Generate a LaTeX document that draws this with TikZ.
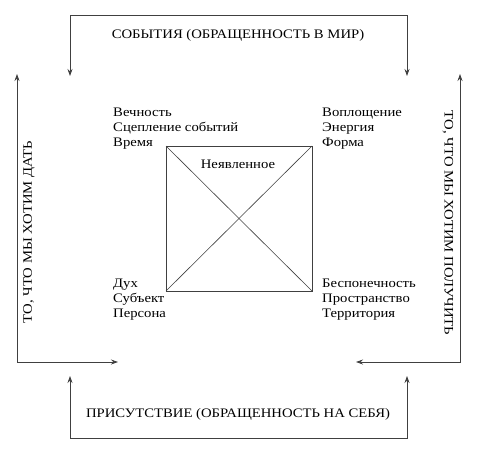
\documentclass[tikz,border=0pt]{standalone}
\usepackage{fontspec}
\setmainfont[FakeStretch=1.13]{Liberation Serif}
\usetikzlibrary{arrows.meta}

\begin{document}
\begin{tikzpicture}[x=1pt, y=-1pt, every node/.style={font=\fontsize{13}{15}\selectfont, inner sep=0pt},
		line/.style={draw=black!75, line width=0.8pt},
		arr/.style={line, {Stealth[length=7pt, width=5pt]}-{Stealth[length=7pt, width=5pt]}}]
			\useasboundingbox (0,0) rectangle (489,450);

			% Square
			\coordinate (nw) at (166,146);
			\coordinate (ne) at (312,146);
			\coordinate (sw) at (166,291);
			\coordinate (se) at (312,291);
			\draw[line] (nw) rectangle (se);
			\draw[line, line width=0.6pt] (nw) -- (se);
			\draw[line, line width=0.6pt] (ne) -- (sw);
			\node (hidden) at (238,164) {Неявленное};

			% Corner labels
			\node[anchor=south west, align=left] (time) at (113,149) {Вечность\\Сцепление событий\\Время};
			\node[anchor=south west, align=left] (form) at (322,149) {Воплощение\\Энергия\\Форма};
			\node[anchor=north west, align=left] (person) at (113,279) {Дух\\Субъект\\Персона};
			\node[anchor=north west, align=left] (space) at (322,279) {Беспонечность\\Пространство\\Территория};

			% Brackets
			\coordinate (t1) at (70,76);
			\coordinate (t2) at (70,15);
			\coordinate (t3) at (407,15);
			\coordinate (t4) at (407,76);
			\draw[arr] (t1) -- (t2) -- (t3) -- (t4);
			\coordinate (b1) at (70,376);
			\coordinate (b2) at (70,438);
			\coordinate (b3) at (407,438);
			\coordinate (b4) at (407,376);
			\draw[arr] (b1) -- (b2) -- (b3) -- (b4);
			\coordinate (l1) at (17,74);
			\coordinate (l2) at (17,362);
			\coordinate (l3) at (118,362);
			\draw[arr] (l1) -- (l2) -- (l3);
			\coordinate (r1) at (460,74);
			\coordinate (r2) at (460,362);
			\coordinate (r3) at (356,362);
			\draw[arr] (r1) -- (r2) -- (r3);

			% Bracket labels
			\node (events) at (238,35) {СОБЫТИЯ (ОБРАЩЕННОСТЬ В МИР)};
			\node (presence) at (238,414) {ПРИСУТСТВИЕ (ОБРАЩЕННОСТЬ НА СЕБЯ)};
			\node[rotate=90] (give) at (29,232) {ТО, ЧТО МЫ ХОТИМ ДАТЬ};
			\node[rotate=-90] (receive) at (448,223) {ТО, ЧТО МЫ ХОТИМ ПОЛУЧИТЬ};
		\end{tikzpicture}
\end{document}
